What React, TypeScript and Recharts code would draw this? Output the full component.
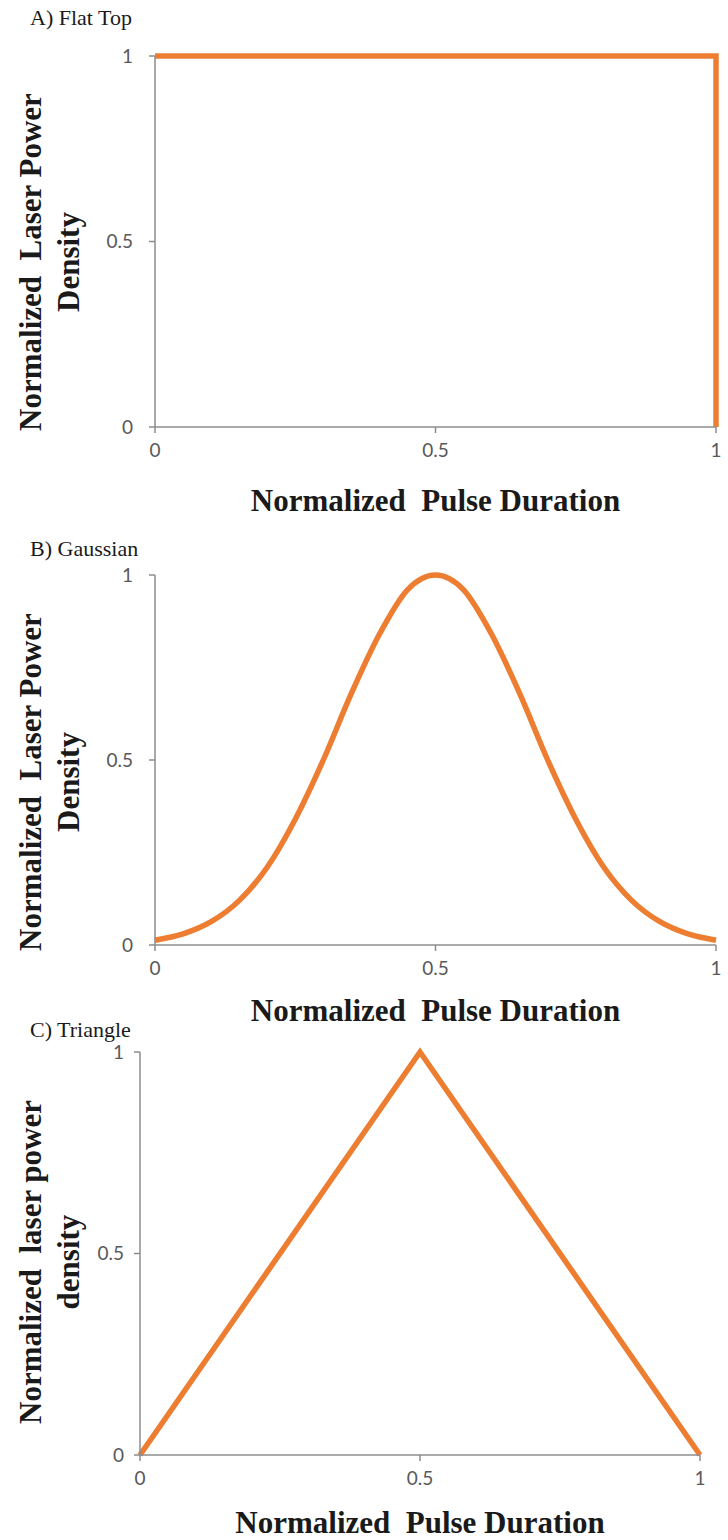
import React from "react";
import { LineChart, Line, XAxis, YAxis, Label } from "recharts";

// pulse shapes, x = normalized pulse duration, y = normalized power density
const flatTopX = [0, 1, 1];
const flatTopY = [1, 1, 0];

const gaussianX = [
  0, 0.05, 0.1, 0.15, 0.2, 0.25, 0.3, 0.35, 0.4, 0.45, 0.5,
  0.55, 0.6, 0.65, 0.7, 0.75, 0.8, 0.85, 0.9, 0.95, 1,
];
const gaussianY = [
  0.013, 0.03, 0.063, 0.12, 0.21, 0.34, 0.5, 0.68, 0.84, 0.96, 1,
  0.96, 0.84, 0.68, 0.5, 0.34, 0.21, 0.12, 0.063, 0.03, 0.013,
];

const triangleX = [0, 0.5, 1];
const triangleY = [0, 1, 0];

const axisTicks = [0, 0.5, 1];

const ORANGE = "#ED7D31";
const AXIS_GRAY = "#8c8c8c";
const TICK_GRAY = "#595959";
const SERIF = "'Liberation Serif', 'Times New Roman', serif";

const zip = (xs: number[], ys: number[]) => xs.map((x, i) => ({ x, y: ys[i] }));

interface PanelProps {
  title: string;
  yLabel: [string, string];
  xs: number[];
  ys: number[];
  smooth?: boolean;
  // page coordinates
  chartTop: number;
  chartHeight: number;
  titleY: number;
  plotTop: number;
  plotBottom: number;
  plotLeft: number;
  plotRight: number;
  xLabelY: number;
  yLabelCenter: number;
  yTickGap: number;
}

const Y_AXIS_W = 70;
const X_AXIS_H = 40;

function Panel(p: PanelProps) {
  const data = zip(p.xs, p.ys);
  const top = p.chartTop;
  const margin = {
    top: p.plotTop - top,
    left: p.plotLeft - Y_AXIS_W,
    right: 728 - p.plotRight,
    bottom: top + p.chartHeight - p.plotBottom - X_AXIS_H,
  };
  const cx = (p.plotLeft + p.plotRight) / 2;
  const yc = p.yLabelCenter - top;

  return (
    <div style={{ position: "absolute", left: 0, top, width: 728, height: p.chartHeight }}>
      <div
        style={{
          position: "absolute",
          left: 30,
          top: p.titleY - top - 10,
          fontFamily: SERIF,
          fontSize: 22,
          lineHeight: "20px",
          color: "#1a1a1a",
          zIndex: 1,
        }}
      >
        {p.title}
      </div>
      <LineChart width={728} height={p.chartHeight} data={data} margin={margin}>
        <XAxis
          dataKey="x"
          type="number"
          domain={[0, 1]}
          ticks={axisTicks}
          height={X_AXIS_H}
          stroke={AXIS_GRAY}
          strokeWidth={1.5}
          tickSize={6}
          tickMargin={11}
          tick={{ fill: TICK_GRAY, fontSize: 19, fontFamily: "Lato, sans-serif" }}
          interval={0}
        >
          <Label
            content={() => (
              <text
                x={cx}
                y={p.xLabelY - top}
                textAnchor="middle"
                dominantBaseline="central"
                fontFamily={SERIF}
                fontWeight="bold"
                fontSize={31}
                fill="#1a1a1a"
              >
                {"Normalized\u00a0 Pulse Duration"}
              </text>
            )}
          />
        </XAxis>
        <YAxis
          type="number"
          domain={[0, 1]}
          ticks={axisTicks}
          width={Y_AXIS_W}
          stroke={AXIS_GRAY}
          strokeWidth={1.5}
          tickSize={6}
          tickMargin={p.yTickGap}
          tick={{ fill: TICK_GRAY, fontSize: 19, fontFamily: "Lato, sans-serif" }}
          interval={0}
        >
          <Label
            content={() => (
              <g fontFamily={SERIF} fontWeight="bold" fontSize={31} fill="#1a1a1a">
                <text
                  x={30}
                  y={yc}
                  textAnchor="middle"
                  dominantBaseline="central"
                  transform={`rotate(-90, 30, ${yc})`}
                >
                  {p.yLabel[0]}
                </text>
                <text
                  x={68}
                  y={yc}
                  textAnchor="middle"
                  dominantBaseline="central"
                  transform={`rotate(-90, 68, ${yc})`}
                >
                  {p.yLabel[1]}
                </text>
              </g>
            )}
          />
        </YAxis>
        <Line
          dataKey="y"
          type={p.smooth ? "monotone" : "linear"}
          stroke={ORANGE}
          strokeWidth={5.5}
          dot={false}
          activeDot={false}
          isAnimationActive={false}
        />
      </LineChart>
    </div>
  );
}

export default function App() {
  return (
    <div
      style={{
        position: "absolute",
        left: 0,
        top: 0,
        width: 728,
        height: 1540,
        background: "#fff",
        overflow: "hidden",
      }}
    >
      <Panel
        title="A) Flat Top"
        yLabel={["Normalized\u00a0 Laser Power", "Density"]}
        xs={flatTopX}
        ys={flatTopY}
        chartTop={0}
        chartHeight={530}
        titleY={18}
        plotTop={56}
        plotBottom={427}
        plotLeft={155}
        plotRight={716}
        xLabelY={500}
        yLabelCenter={262}
        yTickGap={16}
      />
      <Panel
        title="B) Gaussian"
        yLabel={["Normalized\u00a0 Laser Power", "Density"]}
        xs={gaussianX}
        ys={gaussianY}
        smooth
        chartTop={530}
        chartHeight={502}
        titleY={549}
        plotTop={575}
        plotBottom={945}
        plotLeft={155}
        plotRight={716}
        xLabelY={1010}
        yLabelCenter={782}
        yTickGap={16}
      />
      <Panel
        title="C) Triangle"
        yLabel={["Normalized\u00a0 laser power", "density"]}
        xs={triangleX}
        ys={triangleY}
        chartTop={1032}
        chartHeight={508}
        titleY={1030}
        plotTop={1052}
        plotBottom={1455}
        plotLeft={140}
        plotRight={700}
        xLabelY={1522}
        yLabelCenter={1262}
        yTickGap={10}
      />
    </div>
  );
}
